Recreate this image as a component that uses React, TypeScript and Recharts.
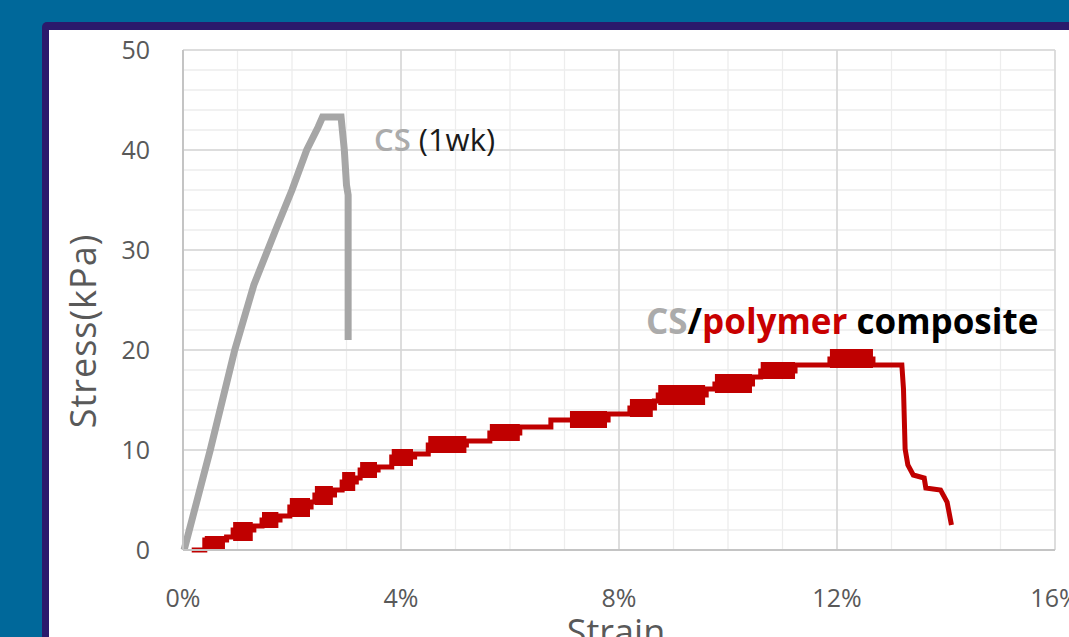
import React from 'react';
import { LineChart, Line, XAxis, YAxis, CartesianGrid, ReferenceArea } from 'recharts';

// strain in %, stress in kPa
const csStrain = [0.02, 0.5, 0.95, 1.3, 1.7, 2.0, 2.27, 2.48, 2.56, 2.9, 2.96, 3.0, 3.03, 3.03];
const csStress = [0, 10, 20, 26.5, 32, 36, 40, 42.3, 43.3, 43.3, 40, 36.5, 35.5, 21];

const compStrain = [
  0.16, 0.4, 0.4, 0.8, 0.8, 0.92, 0.92, 1.3, 1.3, 1.45, 1.45, 1.78, 1.78, 1.96, 1.96, 2.35, 2.35, 2.42,
  2.42, 2.78, 2.78, 2.92, 2.92, 3.18, 3.18, 3.25, 3.25, 3.58, 3.58, 3.83, 3.83, 4.25, 4.25, 4.5, 4.5, 5.2,
  5.2, 5.63, 5.63, 6.18, 6.18, 6.75, 6.75, 7.8, 7.8, 8.2, 8.2, 8.65, 8.65, 8.72, 8.72, 9.6, 9.6, 9.76,
  9.76, 10.45, 10.45, 10.6, 10.6, 11.23, 11.23, 11.87, 11.87, 12.66, 12.66, 13.19, 13.22, 13.25, 13.3,
  13.4, 13.6, 13.63, 13.9, 14.02, 14.1,
];
const compStress = [
  0, 0, 1.0, 1.0, 1.3, 1.3, 2.0, 2.0, 2.4, 2.4, 3.0, 3.0, 3.4, 3.4, 4.3, 4.3, 4.8, 4.8,
  5.5, 5.5, 6.0, 6.0, 6.8, 6.8, 7.2, 7.2, 8.0, 8.0, 8.3, 8.3, 9.3, 9.3, 9.6, 9.6, 10.5, 10.5,
  10.9, 10.9, 11.7, 11.7, 12.3, 12.3, 13.0, 13.0, 13.6, 13.6, 14.2, 14.2, 14.9, 14.9, 15.5, 15.5, 16.1, 16.1,
  16.6, 16.6, 17.3, 17.3, 17.9, 17.9, 18.5, 18.5, 19.1, 19.1, 18.5, 18.5, 16.1, 10.1, 8.5,
  7.5, 7.2, 6.2, 6.0, 4.8, 2.5,
];

// noisy blocks of the composite trace: [strain from, strain to, stress low, stress high]
const compBands = [
  [0.4, 0.77, 0, 1.4], [0.92, 1.28, 0.9, 2.8], [1.45, 1.75, 2.2, 3.8], [1.96, 2.33, 3.3, 5.2],
  [2.42, 2.75, 4.5, 6.4], [2.92, 3.16, 5.9, 7.8], [3.25, 3.56, 7.2, 8.8], [3.83, 4.22, 8.4, 10.1],
  [4.5, 5.2, 9.7, 11.4], [5.63, 6.18, 10.9, 12.6], [7.1, 7.78, 12.2, 13.9], [8.2, 8.62, 13.3, 15.1],
  [8.72, 9.58, 14.5, 16.5], [9.76, 10.44, 15.7, 17.6], [10.6, 11.23, 17.1, 18.8], [11.87, 12.66, 18.2, 20.1],
];

const xTicks = [0, 1, 2, 3, 4, 5, 6, 7, 8, 9, 10, 11, 12, 13, 14, 15, 16];
const xMajor = [0, 4, 8, 12, 16];
const yTicks = [0, 2, 4, 6, 8, 10, 12, 14, 16, 18, 20, 22, 24, 26, 28, 30, 32, 34, 36, 38, 40, 42, 44, 46, 48, 50];
const yMajor = [0, 10, 20, 30, 40, 50];

const csData = csStrain.map((strain, i) => ({ strain, stress: csStress[i] }));
const compData = compStrain.map((strain, i) => ({ strain, stress: compStress[i] }));

const FONT = '"Open Sans", sans-serif';
const TICK = { fontSize: 25, fill: '#595959', fontFamily: FONT };

const YTitle = ({ viewBox }: any) => {
  const x = viewBox.x + 82;
  const y = viewBox.y + viewBox.height / 2 + 31;
  return (
    <text x={x} y={y} transform={`rotate(-90 ${x} ${y})`} textAnchor="middle" dominantBaseline="central"
          fontSize={36} fill="#595959" fontFamily={FONT} letterSpacing={1}>
      Stress(kPa)
    </text>
  );
};

const XTitle = ({ viewBox }: any) => (
  <text x={viewBox.x + viewBox.width / 2 - 3} y={viewBox.y + 95} textAnchor="middle"
        fontSize={36} fill="#595959" fontFamily={FONT}>
    Strain
  </text>
);

export default function App() {
  return (
    <div style={{ position: 'fixed', left: 0, top: 0, width: 1069, height: 637, overflow: 'hidden', background: '#00689A' }}>
      <div style={{ position: 'absolute', left: 42, top: 22, width: 1100, height: 700, background: '#2B1A6C', borderRadius: 5 }} />
      <div style={{ position: 'absolute', left: 49, top: 30, width: 1100, height: 700, background: '#ffffff' }} />
      <div style={{ position: 'absolute', left: 0, top: 0 }}>
        <LineChart width={1069} height={637} margin={{ top: 50, right: 14, left: 0, bottom: 0 }}>
          <CartesianGrid stroke="#EDEDED" strokeWidth={1.3} />
          <CartesianGrid stroke="#D6D6D6" strokeWidth={1.5} verticalValues={xMajor} horizontalValues={yMajor} />
          <XAxis type="number" dataKey="strain" domain={[0, 16]} ticks={xTicks} interval={0}
                 tickFormatter={(v: number) => (v % 4 === 0 ? `${v}%` : '')}
                 height={87} tickLine={false} tickSize={0} tickMargin={39} tick={TICK}
                 axisLine={{ stroke: '#C4C4C4', strokeWidth: 2 }} label={<XTitle />} />
          <YAxis type="number" domain={[0, 50]} ticks={yTicks} interval={0}
                 tickFormatter={(v: number) => (v % 10 === 0 ? `${v}` : '')}
                 width={183} tickLine={false} tickSize={0} tickMargin={33} tick={TICK}
                 axisLine={{ stroke: '#C4C4C4', strokeWidth: 2 }} label={<YTitle />} />
          {compBands.map(([x1, x2, y1, y2], i) => (
            <ReferenceArea key={i} x1={x1} x2={x2} y1={y1} y2={y2} fill="#C00000" fillOpacity={1} stroke="none" />
          ))}
          <Line data={csData} dataKey="stress" type="linear" stroke="#A6A6A6" strokeWidth={7}
                strokeLinejoin="miter" dot={false} isAnimationActive={false} />
          <Line data={compData} dataKey="stress" type="linear" stroke="#C00000" strokeWidth={5}
                dot={false} isAnimationActive={false} />
        </LineChart>
      </div>
      <div style={{ position: 'absolute', left: 374, top: 118, fontFamily: FONT, fontSize: 31, lineHeight: '42px', whiteSpace: 'nowrap' }}>
        <span style={{ color: '#ABABAB', fontWeight: 600 }}>CS</span>
        <span style={{ color: '#1a1a1a' }}> (1wk)</span>
      </div>
      <div style={{ position: 'absolute', left: 646, top: 298, fontFamily: FONT, fontSize: 35, fontWeight: 700, lineHeight: '46px', whiteSpace: 'nowrap' }}>
        <span style={{ color: '#ABABAB' }}>CS</span>
        <span style={{ color: '#000000' }}>/</span>
        <span style={{ color: '#C80000' }}>polymer</span>
        <span style={{ color: '#000000' }}> composite</span>
      </div>
    </div>
  );
}
